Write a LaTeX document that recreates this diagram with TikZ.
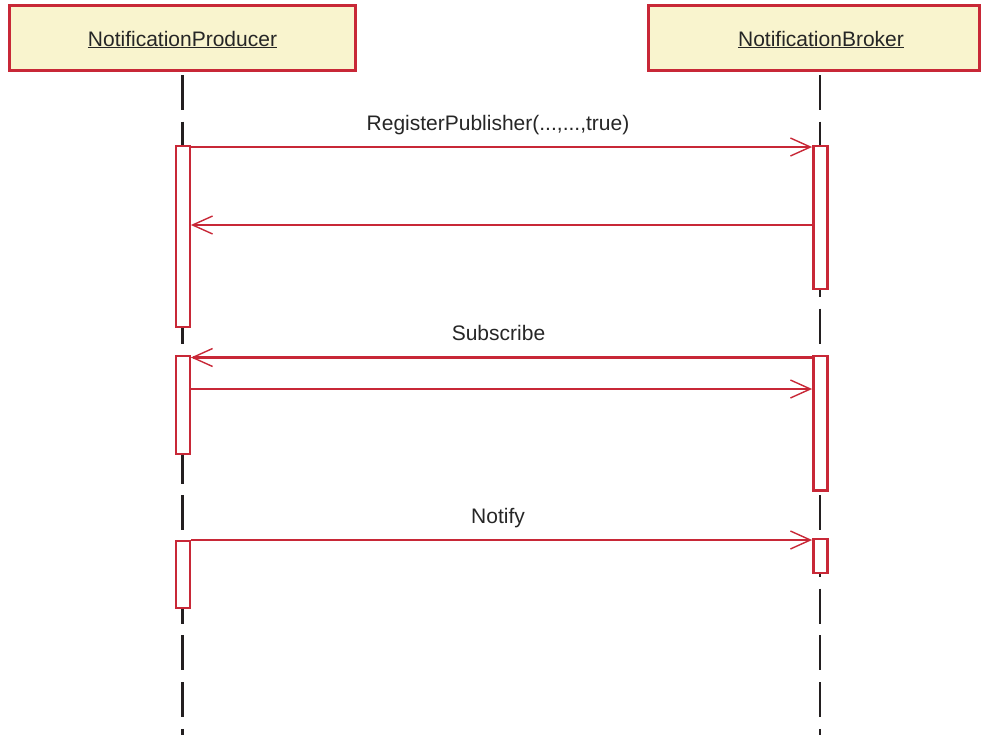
\documentclass[tikz,border=0pt]{standalone}
\usepackage{fontspec}
\setmainfont{Liberation Sans}
\usetikzlibrary{arrows.meta,calc}
\definecolor{umlred}{RGB}{200,40,55}
\definecolor{umlfill}{RGB}{249,244,206}
\definecolor{lifegray}{RGB}{35,31,32}
\tikzset{
  headbox/.style={draw=umlred,fill=umlfill,line width=3pt,minimum height=65pt,inner sep=0pt},
  headtext/.style={anchor=base,inner sep=0pt,font=\fontsize{21}{25}\selectfont,text=black!85},
  lifeline/.style={draw=lifegray,line width=2.2pt,dash pattern=on 35pt off 11.7pt},
  actbox/.style={draw=umlred,fill=white,line width=2.4pt,minimum width=14pt,inner sep=0pt},
  msg/.style={draw=umlred,line width=2.2pt,-{Straight Barb[length=20pt,width=18pt,line width=1.4pt]}},
  msglabel/.style={anchor=base,inner sep=0pt,font=\fontsize{21}{25}\selectfont,text=black!85}
}
\begin{document}
\begin{tikzpicture}[x=1pt,y=-1pt]
\useasboundingbox (0,0) rectangle (983,734);
\clip (0,0) rectangle (983,734);
% headers
\node[headbox,minimum width=346pt] (p) at (182.5,38) {};
\node[headbox,minimum width=331pt] (b) at (814,38) {};
\node[headtext] (pt) at (182.5,46) {\underline{NotificationProducer}};
\node[headtext] (bt) at (821,46) {\underline{NotificationBroker}};
% lifelines
\coordinate (ptop) at (182.5,75);
\coordinate (btop) at (820,75);
\coordinate (pend) at (182.5,745);
\coordinate (bend) at (820,745);
\draw[lifeline] (ptop) -- (pend);
\draw[lifeline] (btop) -- (bend);
% activation boxes
\node[actbox,minimum height=181pt] (pa1) at (182.7,236.5) {};
\node[actbox,minimum height=143pt] (ba1) at (820.3,217.5) {};
\node[actbox,minimum height=98pt] (pa2) at (182.7,405) {};
\node[actbox,minimum height=134.7pt] (ba2) at (820.3,423.3) {};
\node[actbox,minimum height=67pt] (pa3) at (182.7,574.5) {};
\node[actbox,minimum height=34pt] (ba3) at (820.3,556) {};
% message levels
\coordinate (m1) at (0,147);
\coordinate (m2) at (0,225);
\coordinate (m3) at (0,357.5);
\coordinate (m4) at (0,389);
\coordinate (m5) at (0,540);
% messages
\draw[msg] (pa1.east |- m1) -- (ba1.west |- m1);
\draw[msg] (ba1.west |- m2) -- (pa1.east |- m2);
\draw[msg] (ba2.west |- m3) -- (pa2.east |- m3);
\draw[msg] (pa2.east |- m4) -- (ba2.west |- m4);
\draw[msg] (pa3.east |- m5) -- (ba3.west |- m5);
% labels
\node[msglabel] (l1) at (498,130) {RegisterPublisher(...,...,true)};
\node[msglabel] (l3) at (498.5,340) {Subscribe};
\node[msglabel] (l5) at (498,523) {Notify};
\end{tikzpicture}
\end{document}
